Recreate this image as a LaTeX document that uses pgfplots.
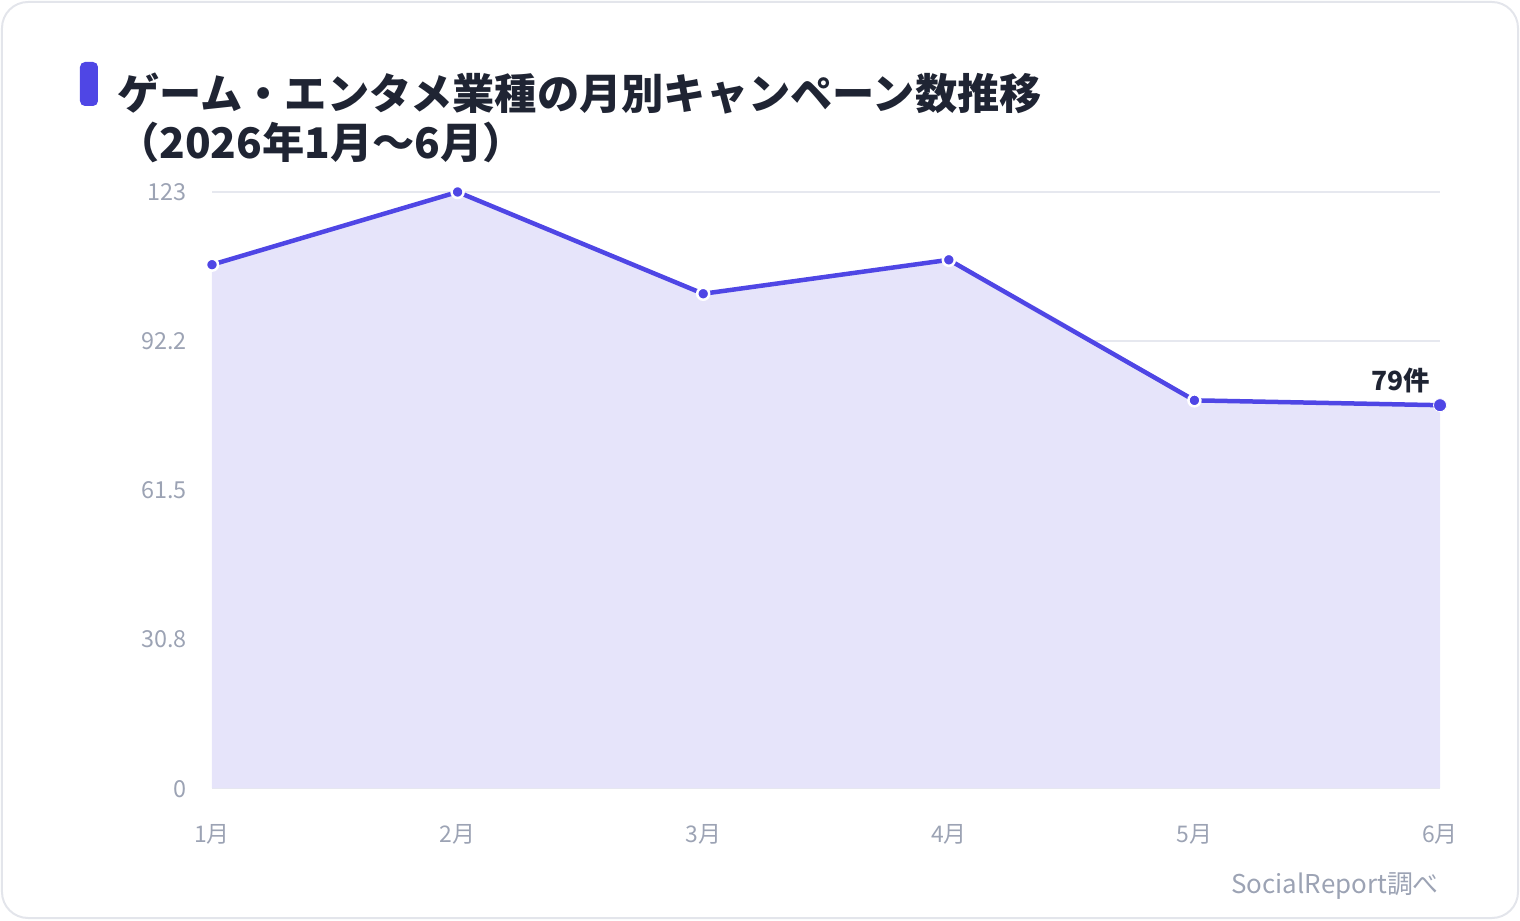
\documentclass[border=0pt]{standalone}
\usepackage{pgfplots}
\pgfplotsset{compat=1.18}
\usepackage{fontspec}
\setmainfont{Noto Sans CJK JP}
\definecolor{lineC}{HTML}{4F46E5}
\definecolor{fillC}{HTML}{E6E4FA}
\definecolor{tickC}{HTML}{9CA3B4}
\definecolor{gridC}{HTML}{E6E8EF}
\definecolor{titleC}{HTML}{1F2433}
\definecolor{cardC}{HTML}{E3E5EB}
\begin{document}
\begin{tikzpicture}[x=1bp,y=1bp]
% bounding box (px (0,0)-(1520,920) -> relative to axis origin at px (212,788))
\path[use as bounding box] (-212,-132) rectangle (1308,788);
\draw[cardC, line width=2bp, rounded corners=26bp] (-210,-130) rectangle (1306,786);
\fill[lineC, rounded corners=5bp] (-132,682) rectangle (-114,726);
\node[anchor=base west, inner sep=0pt, text=titleC, font=\fontsize{42.4}{48}\selectfont\bfseries] at (-95,678) {ゲーム・エンタメ業種の月別キャンペーン数推移};
\node[anchor=base west, inner sep=0pt, text=titleC, font=\fontsize{42.4}{48}\selectfont\bfseries] at (-95,629) {（2026年1月～6月）};
\node[anchor=base east, inner sep=0pt, text=tickC, font=\fontsize{26}{30}\selectfont] at (1227,-105) {SocialReport調べ};
\begin{axis}[
  at={(0,0)}, anchor=south west,
  scale only axis, width=1228bp, height=596bp,
  xmin=0, xmax=5, ymin=0, ymax=123,
  clip=false,
  axis line style={draw=none},
  major tick style={draw=none},
  xtick={0,1,2,3,4,5},
  xticklabels={1月,2月,3月,4月,5月,6月},
  ytick={0,30.75,61.5,92.25,123},
  yticklabels={0,30.8,61.5,92.2,123},
  ymajorgrids,
  grid style={gridC, line width=1.5bp},
  xticklabel style={font=\fontsize{23}{27}\selectfont, text=tickC, anchor=base, inner sep=0pt, yshift=-54bp},
  yticklabel style={font=\fontsize{23.5}{27}\selectfont, text=tickC, anchor=base east, inner sep=0pt, xshift=-25bp, yshift=-9bp},
  /pgf/number format/assume math mode=true,
]
\addplot[fill=fillC, draw=none] coordinates {(0,108) (1,123) (2,102) (3,109) (4,80) (5,79)} \closedcycle;
\addplot[lineC, line width=4.5bp, mark=*, mark size=6bp, mark options={fill=lineC, draw=white, line width=2.5bp}] coordinates {(0,108) (1,123) (2,102) (3,109) (4,80)};
\addplot[lineC, line width=4.5bp] coordinates {(4,80) (5,79)};
\addplot[only marks, mark=*, mark size=6.5bp, mark options={fill=lineC, draw=white, line width=0.8bp}] coordinates {(5,79)};
\node[anchor=base east, inner sep=0pt, text=titleC, font=\fontsize{26.5}{30}\selectfont\bfseries] at (axis cs:5,79) [xshift=-10bp, yshift=15bp] {79件};
\end{axis}
\end{tikzpicture}
\end{document}
